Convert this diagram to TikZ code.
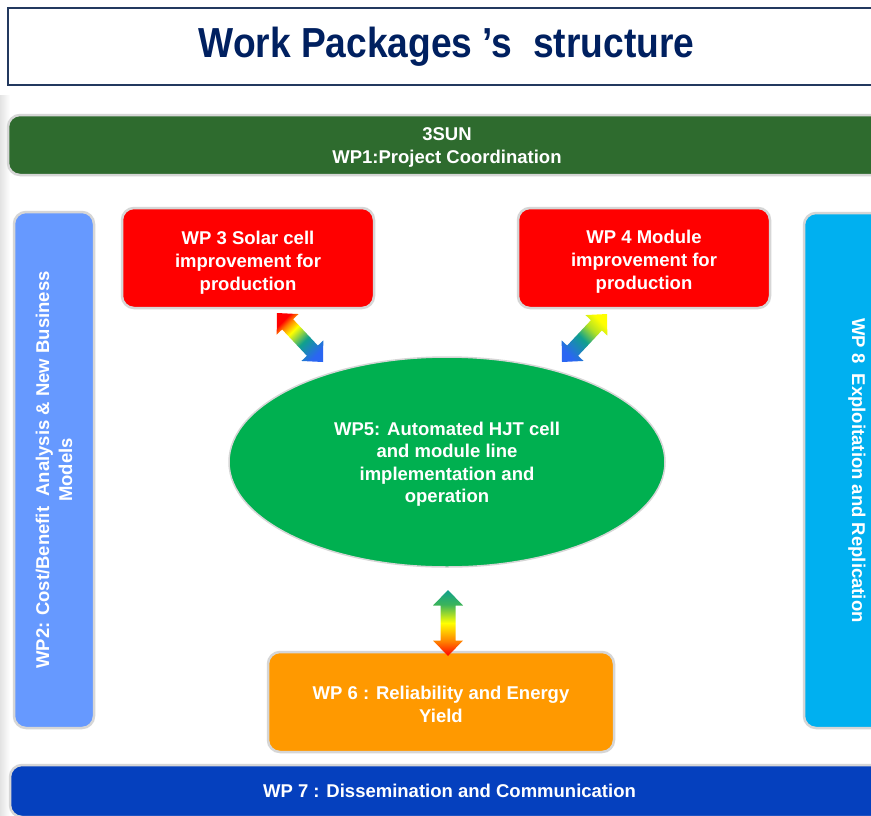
\documentclass[tikz,border=0pt]{standalone}
\usepackage{fontspec}
\setmainfont{Liberation Sans}
\usepackage{graphicx}
\usetikzlibrary{calc,shapes.geometric}

\definecolor{titleink}{HTML}{002060}
\definecolor{titleframe}{HTML}{23395F}
\definecolor{coordgreen}{HTML}{2E6B2E}
\definecolor{costblue}{HTML}{6699FF}
\definecolor{cellred}{HTML}{FF0000}
\definecolor{exploitblue}{HTML}{00B0F0}
\definecolor{linegreen}{HTML}{00B050}
\definecolor{yieldorange}{HTML}{FF9900}
\definecolor{dissblue}{HTML}{0540BE}
\definecolor{rimgray}{HTML}{D6D6D6}
\definecolor{arrowblue}{HTML}{2A66F2}
\definecolor{arrowteal}{HTML}{10A08C}
\definecolor{arrowgreen}{HTML}{3CB45A}

% spectra for the double arrows (the 25bp--75bp band is what covers the path)
\pgfdeclarehorizontalshading{spectrumA}{100bp}{color(0bp)=(red); color(25bp)=(red); color(31bp)=(orange); color(40bp)=(yellow); color(56bp)=(arrowteal); color(75bp)=(arrowblue); color(100bp)=(arrowblue)}
\pgfdeclarehorizontalshading{spectrumB}{100bp}{color(0bp)=(yellow); color(25bp)=(yellow); color(38bp)=(yellow!60!arrowgreen); color(52bp)=(arrowteal); color(75bp)=(arrowblue); color(100bp)=(arrowblue)}
\pgfdeclarehorizontalshading{spectrumC}{100bp}{color(0bp)=(red); color(25bp)=(red); color(36bp)=(orange); color(50bp)=(yellow); color(64bp)=(arrowgreen); color(75bp)=(arrowteal); color(100bp)=(arrowteal)}

\tikzset{
  wpbox/.style={draw=rimgray, line width=2.5pt, rounded corners=12pt, text=white,
    align=center, inner sep=0pt, font=\bfseries\fontsize{18.5}{23}\selectfont},
  wpoval/.style={ellipse, draw=rimgray, line width=1.5pt, text=white,
    align=center, inner sep=0pt, font=\bfseries\fontsize{18.5}{22.5}\selectfont},
}

% taller first line: pushes a centred text block down by half the extra height
\newcommand\drop[1]{\rule{0pt}{#1}}

% block double arrow between two named points, filled with a shading
\newcommand\duoarrow[3]{%
  \coordinate (hA) at ($(#1)!15.5pt!(#2)$);
  \coordinate (hB) at ($(#2)!15.5pt!(#1)$);
  \shade[#3] (#1) -- ($(hA)!15pt!90:(#2)$) -- ($(hA)!7.5pt!90:(#2)$)
    -- ($(hB)!7.5pt!-90:(#1)$) -- ($(hB)!15pt!-90:(#1)$) -- (#2)
    -- ($(hB)!15pt!90:(#1)$) -- ($(hB)!7.5pt!90:(#1)$)
    -- ($(hA)!7.5pt!-90:(#2)$) -- ($(hA)!15pt!-90:(#2)$) -- cycle;
}

\begin{document}
\begin{tikzpicture}[x=1pt,y=-1pt]
\useasboundingbox (0,0) rectangle (871,815);
\fill[white] (0,0) rectangle (871,815);
\shade[left color=gray!22, right color=white] (0,95) rectangle (10,815);

% title
\node[draw=titleframe, line width=1.5pt, minimum width=877pt, minimum height=77pt, inner sep=0pt]
  (title) at (446.5,46.5)
  {\fontsize{42}{42}\selectfont\bfseries\color{titleink}\scalebox{0.885}[1]{Work Packages 's\ \ structure}};

% work packages
\node[wpbox, fill=coordgreen, minimum width=878pt, minimum height=60pt] (wp1) at (447,145)
  {\drop{18pt}3SUN\\WP1:Project Coordination};
\node[wpbox, fill=costblue, rotate=90, minimum width=516pt, minimum height=80pt] (wp2) at (54,470)
  {WP2: Cost/Benefit\ \ Analysis \& New Business\\Models};
\node[wpbox, fill=cellred, minimum width=252pt, minimum height=100pt] (wp3) at (248,258)
  {\drop{22.5pt}WP 3 Solar cell\\improvement for\\production};
\node[wpbox, fill=cellred, minimum width=252pt, minimum height=100pt] (wp4) at (644,258)
  {\drop{21.5pt}WP 4 Module\\improvement for\\production};
\node[wpbox, fill=exploitblue, rotate=-90, minimum width=515pt, minimum height=106pt] (wp8) at (857,470.5)
  {WP 8\ \ Exploitation and Replication};
\node[wpoval, fill=linegreen, minimum width=436pt, minimum height=210pt] (wp5) at (447,462)
  {\drop{17.5pt}WP5: Automated HJT cell\\and module line\\implementation and\\operation};
\node[wpbox, fill=yieldorange, minimum width=346pt, minimum height=100pt] (wp6) at (441,702)
  {\drop{17.5pt}WP 6 : Reliability and Energy\\Yield};
\node[wpbox, fill=dissblue, minimum width=879pt, minimum height=52pt] (wp7) at (449.5,791)
  {WP 7 : Dissemination and Communication};

% links between WP5 and WP3, WP4, WP6
\coordinate (l3a) at (277,313);
\coordinate (l3b) at (323,362);
\coordinate (l4a) at (607,314);
\coordinate (l4b) at (562,362);
\coordinate (l6a) at (448,656);
\coordinate (l6b) at (448,590);
\duoarrow{l3a}{l3b}{shading=spectrumA, shading angle=-45}
\duoarrow{l4a}{l4b}{shading=spectrumB, shading angle=225}
\duoarrow{l6a}{l6b}{shading=spectrumC, shading angle=90}
\end{tikzpicture}
\end{document}
